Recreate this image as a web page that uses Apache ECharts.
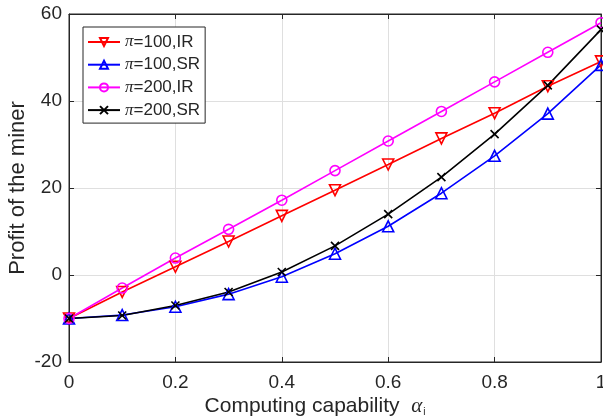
<!DOCTYPE html>
<html><head><meta charset="utf-8">
<script src="https://cdn.jsdelivr.net/npm/echarts@6/dist/echarts.min.js"></script>
<style>html,body{margin:0;padding:0;background:#fff}#c{width:603px;height:419px}</style>
</head><body><div id="c"></div>
<script>
var xValues = [0, 0.1, 0.2, 0.3, 0.4, 0.5, 0.6, 0.7, 0.8, 0.9, 1];
var pi100IR = [-10, -3.9, 1.9, 7.7, 13.6, 19.5, 25.4, 31.4, 37.2, 43.4, 49.1];
var pi100SR = [-10, -9.2, -7.3, -4.4, -0.4, 4.9, 11.2, 18.8, 27.4, 37.1, 48.3];
var pi200IR = [-10, -3.0, 3.9, 10.5, 17.2, 24.0, 30.8, 37.6, 44.4, 51.2, 58.0];
var pi200SR = [-10, -9.3, -7.0, -3.9, 0.7, 6.7, 14.0, 22.5, 32.4, 43.6, 56.4];
var seriesNames = ['π=100,IR', 'π=100,SR', 'π=200,IR', 'π=200,SR'];
var xTicks = [0, 0.2, 0.4, 0.6, 0.8, 1];
var yTicks = [-20, 0, 20, 40, 60];

function pairs(arr) { return xValues.map(function (x, i) { return [x, arr[i]]; }); }
var font = '"Liberation Sans", Arial, sans-serif';
var serif = '"Liberation Serif", "DejaVu Serif", serif';
var axisColor = '#262626';
function mk(name, data, color, symbol, rot, size) {
  return {
    name: name, type: 'line', data: pairs(data), xAxisIndex: 0, yAxisIndex: 0,
    symbol: symbol, symbolSize: size, symbolRotate: rot, showAllSymbol: true,
    lineStyle: { color: color, width: 1.6 },
    itemStyle: { color: 'rgba(255,255,255,0)', borderColor: color, borderWidth: 1.6 },
    emphasis: { disabled: true }, animation: false, z: 3
  };
}
var cross = 'path://M0,0L10,10M10,0L0,10';
function edgeAxis(pos, isX) {
  var a = {
    type: 'value', position: pos,
    axisLine: { show: true, onZero: false, lineStyle: { color: axisColor } },
    axisTick: { show: true, inside: true, length: 5, lineStyle: { color: axisColor } },
    axisLabel: { show: false }, splitLine: { show: false }
  };
  if (isX) { a.min = 0; a.max = 1; a.interval = 0.2; } else { a.min = -20; a.max = 60; a.interval = 20; }
  return a;
}
var chart = echarts.init(document.getElementById('c'));
chart.setOption({
  animation: false,
  grid: { left: 69, right: 2, top: 14, bottom: 57, containLabel: false, outerBoundsMode: 'none',
          show: true, borderColor: axisColor, borderWidth: 1, backgroundColor: '#fff' },
  legend: {
    data: seriesNames, orient: 'vertical', left: 83, top: 27,
    backgroundColor: '#fff', borderColor: axisColor, borderWidth: 1,
    padding: [6, 5, 4, 4], itemGap: 4.7, itemWidth: 32, itemHeight: 10,
    formatter: function (n) { return '{p|π}{t|' + n.slice(1) + '}'; },
    textStyle: {
      color: axisColor, fontSize: 17, fontFamily: font, lineHeight: 18,
      rich: { p: { fontFamily: serif, fontStyle: 'italic', fontSize: 17, color: axisColor, lineHeight: 18 },
              t: { fontFamily: font, fontSize: 17, color: axisColor, lineHeight: 18 } }
    }
  },
  xAxis: [{
    type: 'value', min: 0, max: 1, interval: 0.2, position: 'bottom',
    axisLine: { show: true, onZero: false, lineStyle: { color: axisColor } },
    axisTick: { show: true, inside: true, length: 5, lineStyle: { color: axisColor } },
    axisLabel: { color: axisColor, fontSize: 19, fontFamily: font, margin: 11,
      formatter: function (v) { return xTicks.indexOf(+v.toFixed(1)) >= 0 ? String(+v.toFixed(1)) : ''; } },
    splitLine: { show: true, lineStyle: { color: '#dfdfdf' } },
    name: '{n|Computing capability  }{a|α}{s|i}', nameLocation: 'middle', nameGap: 34,
    nameMoveOverlap: false,
    nameTextStyle: { color: axisColor, fontSize: 21, fontFamily: font,
      rich: { n: { fontSize: 21, fontFamily: font, color: axisColor },
              a: { fontSize: 21, fontFamily: serif, fontStyle: 'italic', color: axisColor },
              s: { fontSize: 10, fontFamily: font, color: axisColor, verticalAlign: 'bottom', padding: [10, 40, 0, 1] } } }
  }, edgeAxis('top', true)],
  yAxis: [{
    type: 'value', min: -20, max: 60, interval: 20, position: 'left',
    axisLine: { show: true, onZero: false, lineStyle: { color: axisColor } },
    axisTick: { show: true, inside: true, length: 5, lineStyle: { color: axisColor } },
    axisLabel: { color: axisColor, fontSize: 19, fontFamily: font, margin: 7,
      formatter: function (v) { return yTicks.indexOf(v) >= 0 ? String(v) : ''; } },
    splitLine: { show: true, lineStyle: { color: '#dfdfdf' } },
    name: 'Profit of the miner', nameLocation: 'middle', nameGap: 40,
    nameMoveOverlap: false,
    nameTextStyle: { color: axisColor, fontSize: 22, fontFamily: font }
  }, edgeAxis('right', false)],
  series: [
    mk(seriesNames[0], pi100IR, '#ff0000', 'triangle', 180, 11),
    mk(seriesNames[1], pi100SR, '#0000ff', 'triangle', 0, 11),
    mk(seriesNames[2], pi200IR, '#ff00ff', 'circle', 0, 10),
    mk(seriesNames[3], pi200SR, '#000000', cross, 0, 8)
  ]
});
</script></body></html>
